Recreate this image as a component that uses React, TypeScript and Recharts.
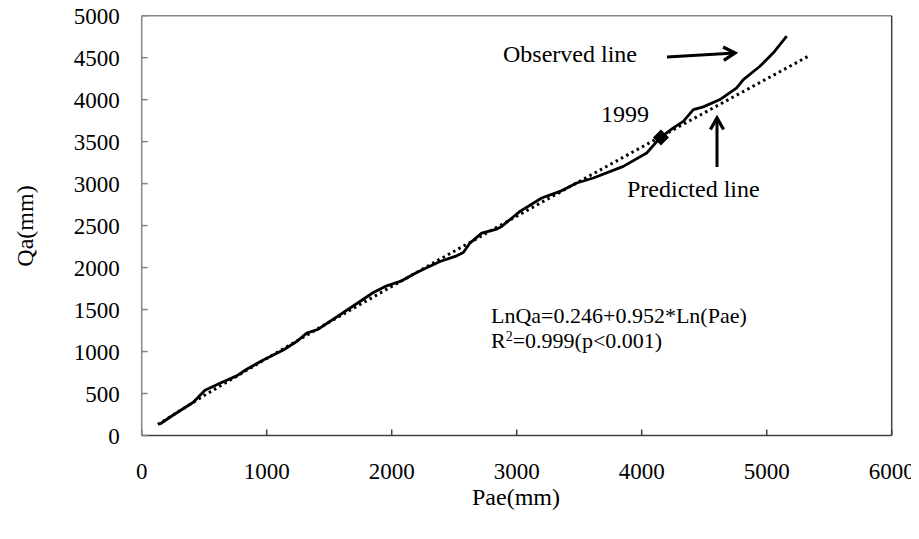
import React from "react";
import {
  ComposedChart,
  Line,
  Scatter,
  XAxis,
  YAxis,
  ReferenceLine,
} from "recharts";

// observed cumulative runoff vs cumulative effective precipitation
const observedPae = [
  146, 253, 413, 506, 626, 760, 840, 973, 1133, 1240, 1320, 1413, 1746, 1853,
  1960, 2080, 2200, 2386, 2520, 2573, 2626, 2720, 2840, 2880, 3026, 3200, 3346,
  3480, 3613, 3853, 4040, 4146, 4253, 4333, 4413, 4493, 4626, 4760, 4813, 4946,
  5053, 5160,
];
const observedQa = [
  137, 244, 396, 539, 622, 710, 789, 900, 1019, 1119, 1219, 1266, 1596, 1703,
  1783, 1842, 1941, 2072, 2140, 2180, 2292, 2411, 2459, 2490, 2669, 2829, 2907,
  3007, 3067, 3205, 3365, 3544, 3663, 3742, 3881, 3914, 4001, 4140, 4239, 4398,
  4558, 4756,
];

// predicted (regression) line
const predictedPae = [130, 500, 1000, 1500, 2000, 2500, 3000, 3500, 4000, 4500, 5000, 5330];
const predictedQa = [132, 477, 918, 1350, 1775, 2195, 2612, 3025, 3435, 3843, 4248, 4515];

// break point
const markYear = "1999";
const markPae = 4154;
const markQa = 3549;

const xTicks = [0, 1000, 2000, 3000, 4000, 5000, 6000];
const yTicks = [0, 500, 1000, 1500, 2000, 2500, 3000, 3500, 4000, 4500, 5000];

const observed = observedPae.map((p, i) => ({ p, q: observedQa[i] }));
const predicted = predictedPae.map((p, i) => ({ p, q: predictedQa[i] }));
const marker = [{ p: markPae, q: markQa }];

const FONT = "'Liberation Serif', 'Times New Roman', serif";
const tickStyle = { fontFamily: FONT, fontSize: 23, fill: "#000" };

const Diamond = (props: any) => {
  const { cx, cy } = props;
  const r = 8;
  return (
    <path
      d={`M${cx},${cy - r}L${cx + r},${cy}L${cx},${cy + r}L${cx - r},${cy}Z`}
      fill="#000"
    />
  );
};

// the svg is pulled over the body margin; kept short enough that no scrollbar shows
const W = 919;
const H = 520;

export default function App() {
  return (
    <div style={{ position: "relative", width: W, height: H, margin: "-8px 0 0 -8px" }}>
      <ComposedChart
        width={W}
        height={H}
        margin={{ top: 15.7, right: 27.3, left: 41.7, bottom: 54.5 }}
      >
        <XAxis
          type="number"
          dataKey="p"
          domain={[0, 6000]}
          ticks={xTicks}
          interval={0}
          height={30}
          tickSize={-6}
          tickMargin={33}
          tick={tickStyle}
          stroke="#404040"
          strokeWidth={1.5}
          allowDataOverflow
        />
        <YAxis
          type="number"
          dataKey="q"
          domain={[0, 5000]}
          ticks={yTicks}
          interval={0}
          width={100}
          tickSize={-6}
          tickMargin={28}
          tick={tickStyle}
          stroke="#868686"
          strokeWidth={1.5}
          allowDataOverflow
        />
        <ReferenceLine y={5000} stroke="#868686" strokeWidth={1.5} />
        <ReferenceLine x={6000} stroke="#404040" strokeWidth={1.5} />
        <Line
          data={predicted}
          dataKey="q"
          type="linear"
          stroke="#000"
          strokeWidth={3}
          strokeDasharray="2.5 3.5"
          dot={false}
          isAnimationActive={false}
        />
        <Line
          data={observed}
          dataKey="q"
          type="linear"
          stroke="#000"
          strokeWidth={2.8}
          strokeLinejoin="round"
          dot={false}
          isAnimationActive={false}
        />
        <Scatter
          data={marker}
          dataKey="q"
          shape={<Diamond />}
          isAnimationActive={false}
        />
      </ComposedChart>
      <svg
        width={W}
        height={H}
        style={{ position: "absolute", left: 0, top: 0, pointerEvents: "none" }}
        fontFamily={FONT}
        fontSize={24}
        fill="#000"
      >
        <defs>
          <marker
            id="head"
            viewBox="0 0 10 10"
            refX="8"
            refY="5"
            markerWidth="5.5"
            markerHeight="5.5"
            orient="auto"
          >
            <path d="M1,1L8,5L1,9" fill="none" stroke="#000" strokeWidth="2" />
          </marker>
        </defs>
        <text x={503} y={62}>Observed line</text>
        <line
          x1={667}
          y1={57}
          x2={735}
          y2={53}
          stroke="#000"
          strokeWidth={3}
          markerEnd="url(#head)"
        />
        <text x={601} y={122}>{markYear}</text>
        <text x={627} y={197}>Predicted line</text>
        <line
          x1={717}
          y1={167}
          x2={717}
          y2={118}
          stroke="#000"
          strokeWidth={3}
          markerEnd="url(#head)"
        />
        <text x={491} y={323} fontSize={22}>
          LnQa=0.246+0.952*Ln(Pae)
        </text>
        <text x={491} y={348} fontSize={22}>
          R<tspan dy={-7} fontSize={14}>2</tspan>
          <tspan dy={7}>=0.999(p&lt;0.001)</tspan>
        </text>
        <text
          x={0}
          y={0}
          textAnchor="middle"
          transform="translate(33,226) rotate(-90)"
        >
          Qa(mm)
        </text>
        <text x={516} y={505} textAnchor="middle">
          Pae(mm)
        </text>
      </svg>
    </div>
  );
}
